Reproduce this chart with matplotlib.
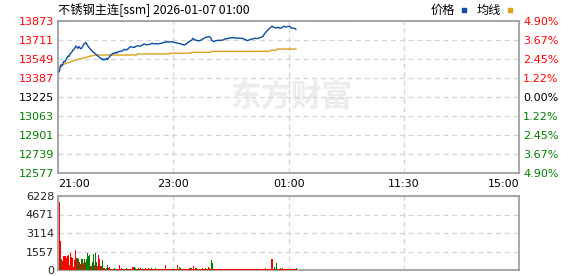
import matplotlib
matplotlib.use("Agg")
import matplotlib.pyplot as plt
from matplotlib.patches import Rectangle

plt.rcParams['font.family'] = ['DejaVu Sans']

# ---------------- data ----------------
title = "不锈钢主连[ssm] 2026-01-07 01:00"
pre_close = 13225
price_ticks = [12577, 12739, 12901, 13063, 13225, 13387, 13549, 13711, 13873]
vol_ticks = [0, 1557, 3114, 4671, 6228]
time_labels = ["21:00", "23:00", "01:00", "11:30", "15:00"]
total_minutes = 465

price_min = [0, 1, 2, 3, 4, 5, 6, 7, 8, 9, 10, 11, 12, 13, 14, 15, 16, 17, 18, 19,
             20, 21, 22, 23, 24, 25, 26, 27, 28, 29, 30, 31, 32, 33, 34, 35, 36, 37, 38, 39,
             40, 41, 42, 43, 44, 45, 46, 47, 48, 49, 50, 51, 52, 53, 54, 55, 56, 57, 58, 59,
             60, 63, 66, 68, 70, 72, 74, 76, 78, 80, 82, 84, 86, 88, 90, 92, 94, 96, 98, 100,
             102, 104, 106, 108, 110, 112, 114, 116, 118, 120, 122, 126, 128, 130, 132, 134, 135, 137, 140, 142,
             144, 146, 148, 150, 152, 153, 154, 156, 158, 160, 163, 166, 168, 170, 172, 174, 176, 178, 180, 182,
             184, 186, 188, 190, 192, 194, 196, 198, 200, 202, 204, 206, 207, 208, 210, 211, 212, 214, 215, 217,
             219, 221, 223, 225, 227, 229, 231, 233, 234, 236, 238, 239]
price_val = [13440, 13470, 13500, 13490, 13515, 13530, 13525, 13545, 13560, 13575,
             13570, 13590, 13600, 13610, 13625, 13630, 13645, 13660, 13650, 13640,
             13655, 13645, 13635, 13645, 13660, 13675, 13683, 13690, 13675, 13660,
             13650, 13640, 13630, 13620, 13610, 13605, 13598, 13590, 13583, 13575,
             13569, 13560, 13555, 13545, 13550, 13540, 13548, 13545, 13555, 13545,
             13560, 13570, 13580, 13585, 13598, 13595, 13600, 13605, 13598, 13610,
             13611, 13615, 13632, 13625, 13640, 13654, 13650, 13648, 13660, 13662,
             13658, 13668, 13677, 13670, 13672, 13675, 13683, 13678, 13680, 13677,
             13682, 13685, 13690, 13697, 13692, 13697, 13695, 13690, 13688, 13683,
             13680, 13668, 13675, 13690, 13700, 13711, 13725, 13712, 13705, 13705,
             13715, 13725, 13734, 13738, 13739, 13730, 13710, 13697, 13705, 13708,
             13708, 13712, 13722, 13722, 13728, 13730, 13732, 13726, 13728, 13726,
             13725, 13722, 13714, 13706, 13712, 13718, 13722, 13726, 13723, 13728,
             13735, 13742, 13760, 13771, 13790, 13799, 13805, 13822, 13828, 13818,
             13813, 13820, 13810, 13818, 13828, 13822, 13826, 13828, 13815, 13812,
             13810, 13802]

avg_min = [0, 5, 10, 15, 20, 25, 30, 35, 40, 78, 79, 111, 112, 133, 134, 153, 154, 212, 213, 219, 220, 239]
avg_val = [13480, 13505, 13520, 13535, 13548, 13558, 13570, 13580, 13583, 13583, 13592, 13592,
           13598, 13598, 13606, 13606, 13614, 13614, 13623, 13623, 13634, 13634]

volume = [5730, 2440, 950, 780, 1180, 1200, 1150, 1000, 1150, 1250, 450, 1450, 1100, 1050, 280, 850, 1700, 1050, 1000, 900,
          650, 480, 900, 900, 600, 900, 700, 900, 1400, 1200, 1300, 500, 300, 350, 700, 1350, 400, 1470, 700, 300,
          1250, 900, 300, 300, 800, 200, 200, 100, 200, 420, 200, 250, 120, 100, 100, 80, 150, 100, 120, 90,
          90, 380, 90, 190, 90, 70, 90, 90, 190, 90, 70, 100, 100, 90, 280, 280, 280, 190, 90, 70,
          190, 90, 190, 70, 90, 70, 90, 130, 90, 70, 130, 90, 70, 130, 90, 70, 90, 130, 90, 70,
          90, 70, 90, 70, 90, 70, 90, 450, 90, 70, 90, 70, 90, 70, 90, 70, 90, 70, 90, 400,
          90, 280, 200, 90, 70, 90, 70, 90, 70, 90, 70, 130, 130, 190, 90, 360, 90, 190, 130, 90,
          70, 90, 70, 90, 70, 190, 90, 70, 190, 90, 70, 280, 190, 90, 870, 560, 90, 70, 90, 70,
          90, 70, 90, 70, 90, 70, 90, 70, 90, 70, 90, 70, 90, 70, 90, 70, 90, 70, 90, 70,
          90, 70, 90, 70, 90, 70, 90, 70, 90, 70, 90, 70, 90, 70, 90, 70, 90, 70, 90, 70,
          90, 70, 90, 70, 90, 70, 90, 70, 130, 90, 70, 90, 70, 90, 950, 950, 90, 280, 90, 560,
          90, 70, 90, 130, 90, 190, 90, 70, 90, 70, 90, 70, 90, 70, 90, 70, 90, 70, 90, 130]
vol_dir = ("RRGRRRRRRRRRRRRRRGRG" "RRGGRGRGGGGRRGGGRGGR" "RRGRGRRRGGRRRGRRGGRR"
           "RRRRRGRRGRRRRRRRGGRR" "GRRRRGRRRRGRRRRRRGRR" "RRRRGRRRRRRRRRGRRRRR"
           "RGGRRRRRRRRRRGRRRRGR" "RRRRRRRRGRRRRRGGRRRR" "RRRRRRRRRRRRRRRRRRRR"
           "RRRRRRRRRRRRRRRRRRRR" "RRRRRRRRRRRRRRRRRGRG" "RRRGRRRRRRRRRRRRRRRG")

# ---------------- style ----------------
RED = "#ff0000"
GREEN = "#008000"
BLUE = "#0b4ea2"
ORANGE = "#dba21f"
FRAME = "#9a9a9a"
GRID = "#d4d4d4"
CJK = ['Noto Sans CJK SC', 'DejaVu Sans']

W, H = 578, 276
fig = plt.figure(figsize=(W / 100, H / 100), dpi=100)

def box(x0, y0, x1, y1):
    return [x0 / W, 1 - y1 / H, (x1 - x0) / W, (y1 - y0) / H]

ax = fig.add_axes(box(58.3, 21, 519, 173))
axv = fig.add_axes(box(58.3, 196, 519, 270))

xt = [total_minutes * i / 4 for i in range(5)]

for a in (ax, axv):
    a.set_xlim(0, total_minutes)
    a.set_xticks(xt)
    for s in a.spines.values():
        s.set_color(FRAME)
        s.set_linewidth(1.2)
    a.tick_params(length=0)
    a.set_axisbelow(True)

# watermark
ax.text(0.505, 0.5, "东方财富", transform=ax.transAxes, ha='center', va='center',
        fontsize=22, fontweight='bold', color='#ececec', family=CJK, zorder=0)

# grid
ax.set_ylim(price_ticks[0], price_ticks[-1])
ax.set_yticks(price_ticks)
ax.grid(True, color=GRID, linestyle=(0, (4, 3)), linewidth=0.9)
axv.set_ylim(vol_ticks[0], vol_ticks[-1])
axv.set_yticks(vol_ticks)
axv.grid(True, color=GRID, linestyle=(0, (4, 3)), linewidth=0.9)

# price + average
ax.plot([m + 0.8 for m in price_min], price_val, color=BLUE, linewidth=1.0, zorder=3)
ax.plot([m + 0.8 for m in avg_min], avg_val, color=ORANGE, linewidth=1.0, zorder=2)

# price tick labels
def pcol(p):
    if p > pre_close:
        return RED
    if p < pre_close:
        return GREEN
    return "#000000"

ax.set_yticklabels([str(p) for p in price_ticks], fontsize=8)
for lab, p in zip(ax.get_yticklabels(), price_ticks):
    lab.set_color(pcol(p))
ax.tick_params(axis='y', pad=3)

axr = ax.twinx()
axr.set_ylim(ax.get_ylim())
axr.set_yticks(price_ticks)
axr.set_yticklabels(["%.2f%%" % abs((p - pre_close) / pre_close * 100) for p in price_ticks], fontsize=8)
for lab, p in zip(axr.get_yticklabels(), price_ticks):
    lab.set_color(pcol(p))
axr.tick_params(length=0, pad=3)
for s in axr.spines.values():
    s.set_visible(False)

# x labels
ax.set_xticklabels(time_labels, fontsize=8)
labs = ax.get_xticklabels()
labs[0].set_ha('left')
labs[-1].set_ha('right')
ax.tick_params(axis='x', pad=4)
axv.set_xticklabels([])

# volume
bar_colors = [RED if d == "R" else GREEN for d in vol_dir]
axv.bar([i + 0.5 for i in range(len(volume))], volume, width=1.0, align='edge',
        color=bar_colors, linewidth=0, antialiased=False, zorder=3)
axv.set_yticklabels([str(v) for v in vol_ticks], fontsize=8, color="#222222")
axv.tick_params(axis='y', pad=3)

# title and legend
fig.text(58 / W, 1 - 10 / H, title, ha='left', va='center', fontsize=8.8, family=CJK, color='#000000')
fig.text(431 / W, 1 - 10 / H, "价格", ha='left', va='center', fontsize=8.8, family=CJK)
fig.patches.append(Rectangle((462 / W, 1 - 11.5 / H), 4 / W, 3 / H, transform=fig.transFigure,
                             color=BLUE, figure=fig))
fig.text(477 / W, 1 - 10 / H, "均线", ha='left', va='center', fontsize=8.8, family=CJK)
fig.patches.append(Rectangle((508 / W, 1 - 11.5 / H), 4 / W, 3 / H, transform=fig.transFigure,
                             color=ORANGE, figure=fig))

fig.savefig("out.png", dpi=100, facecolor='white')
